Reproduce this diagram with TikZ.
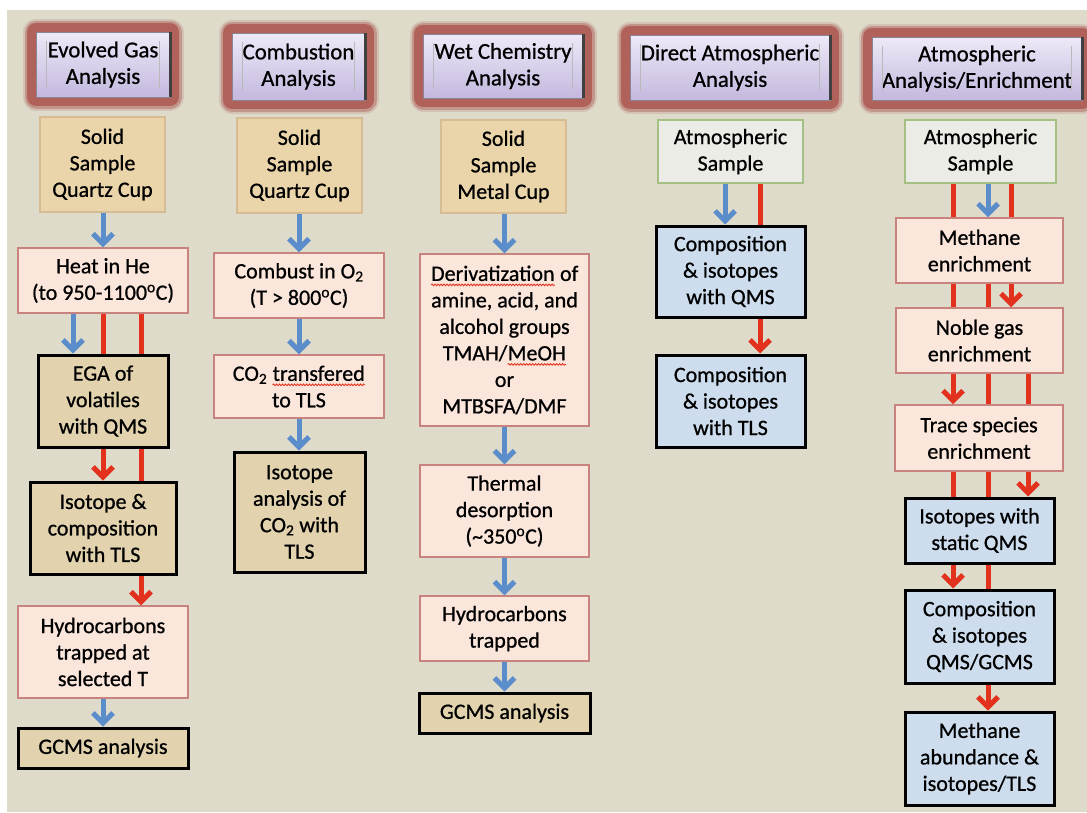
\documentclass[tikz,border=0pt]{standalone}
\usepackage{fontspec}
\setmainfont{Carlito}[FakeBold=0.8]
\usetikzlibrary{arrows.meta,decorations.pathmorphing}
\definecolor{bgc}{HTML}{DEDBCB}
\definecolor{glowc}{HTML}{B0625A}
\definecolor{lavtop}{HTML}{EEE9F8}
\definecolor{lavbot}{HTML}{C4B8DE}
\definecolor{lavb}{HTML}{8A8494}
\definecolor{sampf}{HTML}{EAD5AA}
\definecolor{sampb}{HTML}{D6BC94}
\definecolor{procf}{HTML}{FBE6DC}
\definecolor{procb}{HTML}{C9837F}
\definecolor{resf}{HTML}{E2D3AE}
\definecolor{bluf}{HTML}{CDDDED}
\definecolor{atmf}{HTML}{ECECE6}
\definecolor{atmb}{HTML}{A6BF85}
\definecolor{bluec}{HTML}{5B8DCB}
\definecolor{redc}{HTML}{E2321E}
\newcommand\bxf{\fontsize{22}{26.5}\selectfont}
\newcommand\hdf{\fontsize{22.8}{26.5}\selectfont}
\newcommand\spellw[1]{\tikz[baseline=(sw.base),x=1pt,y=1pt]{%
  \node[draw=none,fill=none,inner sep=0pt,outer sep=0pt,minimum width=0pt,minimum height=0pt,anchor=base,shape=rectangle] (sw) at (0,0) {#1};
  \draw[draw=redc,line width=0.9pt,decorate,decoration={snake,amplitude=0.8pt,segment length=3pt}] ([yshift=-4pt]sw.base west) -- ([yshift=-4pt]sw.base east);}}
\newcommand\hbevel[1]{%
  \draw[gray!55, line width=0.8pt] ([xshift=11pt,yshift=-9pt]#1.north west) -- ([xshift=11pt,yshift=9pt]#1.south west);
  \draw[gray!55, line width=0.8pt] ([xshift=-11pt,yshift=-9pt]#1.north east) -- ([xshift=-11pt,yshift=9pt]#1.south east);
  \draw[black!75, line width=2.5pt] (#1.north east) -- (#1.south east);}
\tikzset{
  hdr/.style={font=\hdf, align=center, inner sep=0pt, top color=lavtop, bottom color=lavbot,
    draw=lavb, line width=0.8pt,
    preaction={draw=glowc, draw opacity=0.2, line width=27pt, line join=round},
    preaction={draw=glowc, draw opacity=0.45, line width=23pt, line join=round},
    preaction={draw=glowc, line width=18pt, line join=round}},
  basebox/.style={font=\bxf, align=center, inner sep=0pt},
  samp/.style={basebox, draw=sampb, line width=1.3pt, fill=sampf},
  proc/.style={basebox, draw=procb, line width=1.5pt, fill=procf},
  res/.style={basebox, draw=black, line width=3pt, fill=resf},
  blu/.style={basebox, draw=black, line width=3pt, fill=bluf},
  atm/.style={basebox, draw=atmb, line width=1.5pt, fill=atmf},
  barrow/.style={draw=bluec, line width=5pt, -{Straight Barb[length=10pt,width=20pt]}},
  rarrow/.style={draw=redc, line width=5pt, -{Straight Barb[length=10pt,width=20pt]}},
  rline/.style={draw=redc, line width=5pt}
}
\begin{document}
\begin{tikzpicture}[x=1pt,y=-1pt]
\useasboundingbox (0,0) rectangle (1087,812);
\fill[white] (0,0) rectangle (1087,812);
\fill[bgc] (7,10) rectangle (1087,812);

% x positions of parallel connectors
\coordinate (k73) at (73,0);
\coordinate (k103) at (103,0);
\coordinate (k141) at (141,0);
\coordinate (k725) at (725,0);
\coordinate (k760) at (760,0);
\coordinate (k953) at (953,0);
\coordinate (k987) at (988,0);
\coordinate (k1011) at (1011,0);
\coordinate (k1028) at (1028,0);

% headers
\node[hdr, minimum width=134pt, minimum height=65pt] (h1) at (103,64.5) {Evolved Gas\\Analysis};
\node[hdr, minimum width=133pt, minimum height=67pt] (h2) at (298.5,66.5) {Combustion\\Analysis};
\node[hdr, minimum width=160pt, minimum height=64pt] (h3) at (503,66) {Wet Chemistry\\Analysis};
\node[hdr, minimum width=200pt, minimum height=65pt] (h4) at (730,67.5) {Direct Atmospheric\\Analysis};
\node[hdr, minimum width=210pt, minimum height=63pt] (h5) at (977,68.5) {Atmospheric\\Analysis/Enrichment};
\hbevel{h1}\hbevel{h2}\hbevel{h3}\hbevel{h4}\hbevel{h5}

% column 1
\node[samp, minimum width=125pt, minimum height=95pt] (s1) at (102.5,164.5) {Solid\\Sample\\Quartz Cup};
\node[proc, minimum width=170pt, minimum height=65pt] (heat) at (103,280.5) {Heat in He\\(to 950-1100\textsuperscript{o}C)};
\node[res, minimum width=130pt, minimum height=92pt] (ega) at (103,401) {EGA of\\volatiles\\with QMS};
\node[res, minimum width=146pt, minimum height=92pt] (iso) at (103,528) {Isotope \&\\composition\\with TLS};
\node[proc, minimum width=170pt, minimum height=92pt] (hyd) at (103,652) {Hydrocarbons\\trapped at\\selected T};
\node[res, minimum width=170pt, minimum height=40pt] (gc1) at (103,748) {GCMS analysis};

% column 2
\node[samp, minimum width=125pt, minimum height=95pt] (s2) at (299.5,165.5) {Solid\\Sample\\Quartz Cup};
\node[proc, minimum width=170pt, minimum height=65pt] (comb) at (299,285.5) {Combust in O\textsubscript{2}\\(T > 800\textsuperscript{o}C)};
\node[proc, minimum width=170pt, minimum height=63pt] (co2) at (299,386.5) {CO\textsubscript{2} \spellw{transfered}\\to TLS};
\node[res, minimum width=131pt, minimum height=120pt] (isoc) at (299.5,512) {Isotope\\analysis of\\CO\textsubscript{2} with\\TLS};

% column 3
\node[samp, minimum width=125pt, minimum height=93pt] (s3) at (503.5,166.5) {Solid\\Sample\\Metal Cup};
\node[proc, minimum width=169pt, minimum height=172pt] (der) at (504.5,340) {\spellw{Derivatization} of\\amine, acid, and\\alcohol groups\\TMAH/\spellw{MeOH}\\or\\MTBSFA/DMF};
\node[proc, minimum width=169pt, minimum height=92pt] (th) at (504.5,511) {Thermal\\desorption\\(\textasciitilde350\textsuperscript{o}C)};
\node[proc, minimum width=169pt, minimum height=65pt] (hy3) at (504.5,628.5) {Hydrocarbons\\trapped};
\node[res, minimum width=171pt, minimum height=40pt] (gc3) at (504.5,713) {GCMS analysis};

% column 4
\node[atm, minimum width=145pt, minimum height=63pt] (a4) at (730.5,151.5) {Atmospheric\\Sample};
\node[blu, minimum width=149pt, minimum height=91pt] (cq) at (730.5,271.5) {Composition\\\& isotopes\\with QMS};
\node[blu, minimum width=149pt, minimum height=92pt] (ct) at (730.5,401) {Composition\\\& isotopes\\with TLS};

% column 5
\node[atm, minimum width=151pt, minimum height=63pt] (a5) at (980.5,151.5) {Atmospheric\\Sample};
\node[proc, minimum width=167pt, minimum height=65pt] (me) at (979.5,250.5) {Methane\\enrichment};
\node[proc, minimum width=167pt, minimum height=65pt] (no) at (979.5,340.5) {Noble gas\\enrichment};
\node[proc, minimum width=168pt, minimum height=66pt] (tr) at (979,438) {Trace species\\enrichment};
\node[blu, minimum width=149pt, minimum height=65pt] (isq) at (979.5,530.5) {Isotopes with\\static QMS};
\node[blu, minimum width=149pt, minimum height=93pt] (cg) at (979.5,636.5) {Composition\\\& isotopes\\QMS/GCMS};
\node[blu, minimum width=149pt, minimum height=93pt] (ma) at (979.5,758.5) {Methane\\abundance \&\\isotopes/TLS};

% connectors column 1
\draw[barrow] (s1.south -| heat.north) -- (heat.north);
\draw[barrow] (heat.south -| k73) -- (ega.north -| k73);
\draw[rline] (heat.south -| k103) -- (ega.north -| k103);
\draw[rline] (heat.south -| k141) -- (ega.north -| k141);
\draw[rarrow] (ega.south -| k103) -- (iso.north -| k103);
\draw[rline] (ega.south -| k141) -- (iso.north -| k141);
\draw[rarrow] (iso.south -| k141) -- (hyd.north -| k141);
\draw[barrow] (hyd.south) -- (gc1.north);

% connectors column 2
\draw[barrow] (s2.south -| comb.north) -- (comb.north);
\draw[barrow] (comb.south) -- (co2.north);
\draw[barrow] (co2.south) -- (co2.south |- isoc.north);

% connectors column 3
\draw[barrow] (s3.south -| der.north) -- (der.north);
\draw[barrow] (der.south) -- (th.north);
\draw[barrow] (th.south) -- (hy3.north);
\draw[barrow] (hy3.south) -- (gc3.north);

% connectors column 4
\draw[barrow] (a4.south -| k725) -- (cq.north -| k725);
\draw[rline] (a4.south -| k760) -- (cq.north -| k760);
\draw[rarrow] (cq.south -| k760) -- (ct.north -| k760);

% connectors column 5
\draw[rline] (a5.south -| k953) -- (me.north -| k953);
\draw[barrow] (a5.south -| k987) -- (me.north -| k987);
\draw[rline] (a5.south -| k1011) -- (me.north -| k1011);
\draw[rline] (me.south -| k953) -- (no.north -| k953);
\draw[rline] (me.south -| k987) -- (no.north -| k987);
\draw[rarrow] (me.south -| k1011) -- (no.north -| k1011);
\draw[rarrow] (no.south -| k953) -- (tr.north -| k953);
\draw[rline] (no.south -| k987) -- (tr.north -| k987);
\draw[rline] (no.south -| k1028) -- (tr.north -| k1028);
\draw[rline] (tr.south -| k953) -- (isq.north -| k953);
\draw[rline] (tr.south -| k987) -- (isq.north -| k987);
\draw[rarrow] (tr.south -| k1028) -- (isq.north -| k1028);
\draw[rarrow] (isq.south -| k953) -- (cg.north -| k953);
\draw[rline] (isq.south -| k987) -- (cg.north -| k987);
\draw[rarrow] (cg.south -| k987) -- (ma.north -| k987);
\end{tikzpicture}
\end{document}
